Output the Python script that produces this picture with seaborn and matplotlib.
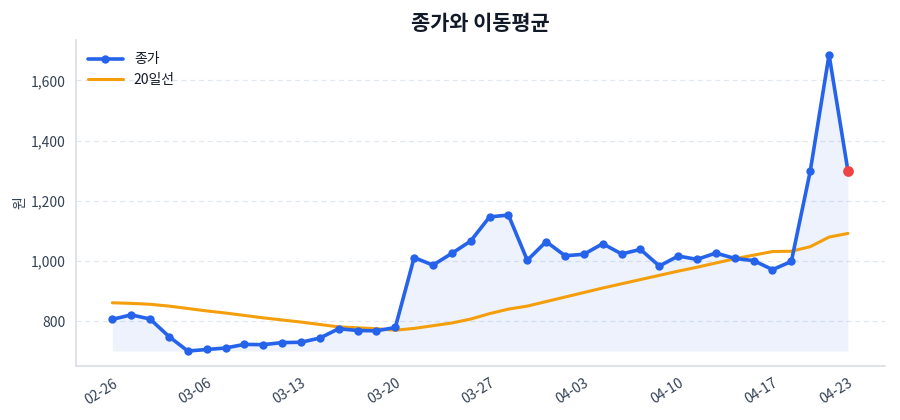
import numpy as np
import pandas as pd
import matplotlib.pyplot as plt
import matplotlib.ticker as mticker
import seaborn as sns

sns.set_theme(style='white')
plt.rcParams['font.family'] = ['Noto Sans CJK KR', 'DejaVu Sans']
plt.rcParams['axes.unicode_minus'] = False

# --- data (KRX trading days, 2025) ---
dates = ['02-26', '02-27', '02-28', '03-04', '03-05', '03-06', '03-07', '03-10',
         '03-11', '03-12', '03-13', '03-14', '03-17', '03-18', '03-19', '03-20',
         '03-21', '03-24', '03-25', '03-26', '03-27', '03-28', '03-31', '04-01',
         '04-02', '04-03', '04-04', '04-07', '04-08', '04-09', '04-10', '04-11',
         '04-14', '04-15', '04-16', '04-17', '04-18', '04-21', '04-22', '04-23']
close = [807, 822, 808, 750, 702, 707, 712, 724, 723, 730,
         731, 745, 776, 770, 769, 780, 1012, 987, 1026, 1067,
         1147, 1153, 1003, 1065, 1018, 1023, 1058, 1024, 1039, 984,
         1017, 1006, 1027, 1009, 1002, 972, 999, 1298, 1685, 1300]
ma20 = [862, 860, 857, 851, 843, 835, 828, 820, 812, 805,
        798, 790, 782, 779, 776, 771, 777, 786, 795, 808,
        826, 841, 851, 866, 881, 896, 911, 925, 939, 953,
        967, 980, 994, 1008, 1020, 1032, 1033, 1048, 1080, 1092]

df = pd.DataFrame({'idx': range(len(dates)), 'date': dates,
                   'close': close, 'ma20': ma20})

BLUE = '#2563eb'
ORANGE = '#f59e0b'
RED = '#ef4444'
TEXT = '#334155'

fig = plt.figure(figsize=(9, 4.2), dpi=100)
ax = fig.add_axes([0.084, 0.129, 0.899, 0.776])

ax.fill_between(df['idx'], df['close'], df['close'].min(),
                color=BLUE, alpha=0.08, linewidth=0, zorder=1)
sns.lineplot(data=df, x='idx', y='close', ax=ax, color=BLUE, linewidth=2.6,
             marker='o', markersize=6, markeredgewidth=0, label='종가', zorder=3)
sns.lineplot(data=df, x='idx', y='ma20', ax=ax, color=ORANGE, linewidth=2.2,
             label='20일선', zorder=2)
last = df.iloc[[-1]]
ax.scatter(last['idx'], last['close'], s=60, color=RED, zorder=4, linewidths=0)

tick_pos = list(range(0, len(dates), 5)) + [len(dates) - 1]
ax.set_xticks(tick_pos)
ax.set_xticklabels([dates[i] for i in tick_pos], rotation=32, ha='right',
                   rotation_mode='anchor', fontsize=10, color=TEXT)
ax.yaxis.set_major_locator(mticker.MultipleLocator(200))
ax.yaxis.set_major_formatter(mticker.FuncFormatter(lambda v, p: f'{v:,.0f}'))
ax.tick_params(axis='y', labelsize=10, labelcolor=TEXT, length=4, color=TEXT, width=0.8)
ax.tick_params(axis='x', length=4, color=TEXT, width=0.8)
ax.margins(x=0.05, y=0.05)

ax.grid(axis='y', linestyle=(0, (4, 3)), color='#e2e8f0', linewidth=0.9)
ax.grid(axis='x', visible=False)
for s in ['top', 'right']:
    ax.spines[s].set_visible(False)
for s in ['left', 'bottom']:
    ax.spines[s].set_color('#d9dde3')
    ax.spines[s].set_linewidth(1.2)

ax.set_xlabel('')
ax.set_ylabel('원', fontsize=10, color=TEXT, labelpad=2)
ax.set_title('종가와 이동평균', fontsize=15, fontweight='bold', color='#111827', pad=7)

leg = ax.legend(loc='upper left', frameon=False, fontsize=10, handlelength=2.5)
for t in leg.get_texts():
    t.set_color('#111827')

plt.savefig('out.png', dpi=100)
